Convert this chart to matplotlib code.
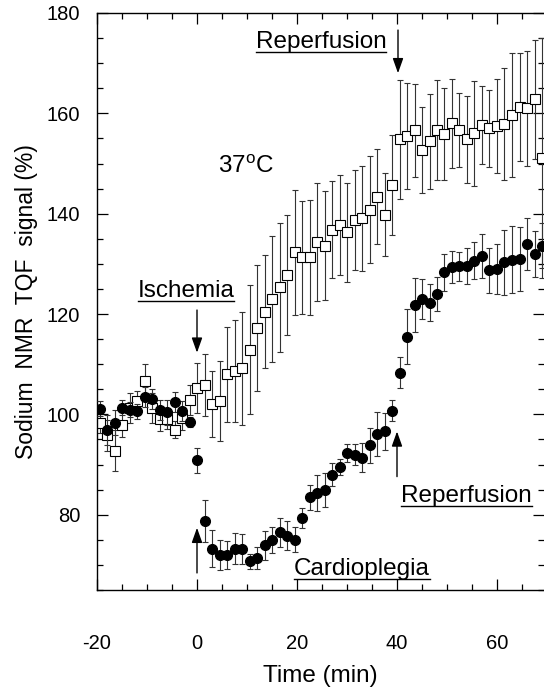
import numpy as np
import matplotlib
matplotlib.use('Agg')
import matplotlib.pyplot as plt
from matplotlib.ticker import MultipleLocator

plt.rcParams['font.family'] = ['Liberation Sans', 'DejaVu Sans']
plt.rcParams['mathtext.fontset'] = 'custom'
plt.rcParams['mathtext.rm'] = 'Liberation Sans'
plt.rcParams['axes.unicode_minus'] = False

# Open squares (time in min, TQF signal %, error)
time_sq = [-19.5, -18, -16.5, -15, -13.5, -12, -10.5, -9, -7.5, -6, -4.5, -3, -1.5, 0,
           1.5, 3, 4.5, 6, 7.5, 9, 10.5, 12, 13.5, 15, 16.5, 18, 19.5,
           21, 22.5, 24, 25.5, 27, 28.5, 30, 31.5, 33, 34.5, 36, 37.5, 39, 40.5,
           42, 43.5, 45, 46.5, 48, 49.5, 51, 52.5, 54, 55.5, 57, 58.5, 60, 61.5,
           63, 64.5, 66, 67.5, 69]
tqf_sq = [98.2, 95.8, 92.8, 97.9, 101.2, 102.6, 106.6, 101.2, 99.0, 99.1, 96.9, 99.2, 102.8, 105.3,
          105.9, 102.1, 102.6, 108.0, 108.6, 109.2, 112.9, 117.2, 120.5, 123.0, 125.3, 127.8, 132.3,
          131.3, 131.3, 134.4, 133.6, 136.8, 137.8, 136.3, 138.8, 139.1, 140.8, 143.4, 139.8, 145.7, 154.8,
          155.5, 156.6, 152.7, 154.4, 156.7, 155.9, 158.0, 156.7, 154.8, 156.0, 157.7, 157.0, 157.5, 157.9,
          159.7, 161.3, 161.0, 162.8, 151.1]
err_sq = [2.0, 3.0, 4.0, 2.5, 3.0, 2.0, 3.5, 3.0, 2.3, 2.0, 1.7, 2.3, 3.0, 5.0,
          6.2, 6.6, 8.0, 9.5, 10.2, 11.3, 12.9, 12.6, 11.3, 12.5, 12.9, 12.0, 12.5,
          11.3, 11.4, 11.8, 10.9, 9.7, 10.0, 9.9, 10.0, 10.5, 10.6, 9.4, 8.3, 10.0, 11.9,
          10.6, 9.2, 8.6, 9.5, 10.0, 9.1, 8.8, 7.4, 8.7, 10.4, 7.8, 7.6, 9.3, 11.2,
          12.3, 10.8, 11.5, 11.8, 24.0]

# Filled circles
time_ci = [-19.5, -18, -16.5, -15, -13.5, -12, -10.5, -9, -7.5, -6, -4.5, -3, -1.5, 0,
           1.5, 3, 4.5, 6, 7.5, 9, 10.5, 12, 13.5, 15, 16.5, 18, 19.5,
           21, 22.5, 24, 25.5, 27, 28.5, 30, 31.5, 33, 34.5, 36, 37.5, 39, 40.5,
           42, 43.5, 45, 46.5, 48, 49.5, 51, 52.5, 54, 55.5, 57, 58.5, 60, 61.5,
           63, 64.5, 66, 67.5, 69]
tqf_ci = [101.1, 96.8, 98.3, 101.3, 100.9, 100.6, 103.4, 103.0, 100.8, 100.4, 102.4, 100.6, 98.4, 90.9,
          78.7, 73.2, 72.0, 72.0, 73.2, 73.1, 70.7, 71.4, 73.9, 74.9, 76.5, 75.8, 75.0,
          79.3, 83.5, 84.3, 85.0, 88.0, 89.6, 92.3, 92.0, 91.4, 93.8, 96.1, 96.6, 100.7, 108.3,
          115.5, 121.8, 123.0, 122.3, 124.0, 128.3, 129.3, 129.5, 129.5, 130.6, 131.5, 128.7, 128.9, 130.3,
          130.8, 131.0, 134.0, 132.0, 133.6]
err_ci = [1.5, 3.0, 2.5, 1.5, 1.5, 1.5, 2.0, 2.0, 2.0, 2.5, 2.0, 2.0, 1.0, 2.5,
          4.2, 3.7, 3.0, 2.8, 3.1, 3.0, 1.5, 2.2, 2.9, 2.6, 2.9, 2.9, 2.5,
          2.0, 2.5, 3.6, 3.4, 2.3, 1.6, 1.7, 2.1, 2.8, 3.5, 4.3, 3.7, 2.1, 3.1,
          5.5, 5.4, 3.9, 3.6, 3.3, 3.7, 3.2, 2.9, 3.6, 3.7, 4.4, 4.5, 5.0, 6.5,
          6.7, 6.4, 5.2, 4.6, 4.5]

fig = plt.figure(figsize=(5.44, 6.92), dpi=100)
ax = fig.add_axes([97 / 544, 1 - 590 / 692, 447 / 544, 577 / 692])

ax.errorbar(time_sq, tqf_sq, yerr=err_sq, fmt='s', ms=7.2, mfc='white', mec='black',
            mew=0.8, ecolor='0.2', elinewidth=0.8, capsize=2.2, capthick=0.8, zorder=2)
ax.errorbar(time_ci, tqf_ci, yerr=err_ci, fmt='o', ms=7.0, mfc='black', mec='black',
            ecolor='0.2', elinewidth=0.8, capsize=2.2, capthick=0.8, zorder=3)

ax.set_xlim(-20, 69.4)
ax.set_ylim(65, 180)
ax.spines['right'].set_visible(False)
for s in ['left', 'top', 'bottom']:
    ax.spines[s].set_linewidth(1.0)

ax.xaxis.set_major_locator(MultipleLocator(20))
ax.xaxis.set_minor_locator(MultipleLocator(5))
ax.yaxis.set_major_locator(MultipleLocator(20))
ax.yaxis.set_minor_locator(MultipleLocator(5))
ax.set_yticks([80, 100, 120, 140, 160, 180])
ax.tick_params(which='both', direction='in', top=True, right=True, width=0.9)
ax.tick_params(which='major', length=8)
ax.tick_params(which='minor', length=4)
ax.tick_params(axis='x', which='major', labelsize=14.5, pad=32)
ax.tick_params(axis='y', which='major', labelsize=14.5, pad=12)

ax.set_xlabel('Time (min)', fontsize=17.5, labelpad=8)
ax.set_ylabel('Sodium  NMR  TQF  signal (%)', fontsize=16.5, labelpad=6)

# annotations
fs = 17.5
labels = []
labels.append(ax.text(-2.2, 124.6, 'Ischemia', fontsize=fs, ha='center', va='center'))
labels.append(ax.text(24.8, 174.2, 'Reperfusion', fontsize=fs, ha='center', va='center'))
labels.append(ax.text(53.9, 83.8, 'Reperfusion', fontsize=fs, ha='center', va='center'))
labels.append(ax.text(33.0, 69.2, 'Cardioplegia', fontsize=fs, ha='center', va='center'))
ax.text(9.8, 149.3, '37$^{\\rm o}$C', fontsize=fs, ha='center', va='center')

arrow = dict(arrowstyle='-|>,head_length=0.45,head_width=0.16', color='black',
             lw=1.0, mutation_scale=20, shrinkA=0, shrinkB=0)
ax.annotate('', xy=(0, 112.3), xytext=(0, 120.8), arrowprops=arrow)
ax.annotate('', xy=(40.2, 168.0), xytext=(40.2, 176.6), arrowprops=arrow)
ax.annotate('', xy=(40.0, 96.6), xytext=(40.0, 87.6), arrowprops=arrow)
ax.annotate('', xy=(0, 77.4), xytext=(0, 68.4), arrowprops=arrow)

# underline the labels
fig.canvas.draw()
inv = ax.transData.inverted()
for t in labels:
    bb = t.get_window_extent()
    (x0, y0), (x1, _) = inv.transform([(bb.x0, bb.y0 + 1), (bb.x1, bb.y0 + 1)])
    ax.plot([x0, x1], [y0, y0], color='black', lw=1.0, clip_on=False)

fig.savefig('out.png', dpi=100)
